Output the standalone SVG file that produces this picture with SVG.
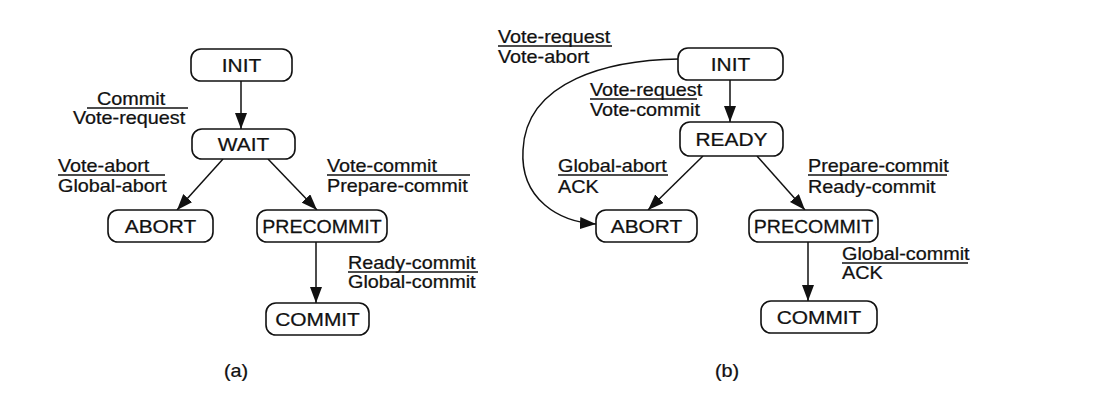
<svg xmlns="http://www.w3.org/2000/svg" width="1114" height="410" viewBox="0 0 1114 410">
<style>
text{font-family:"Liberation Sans",Arial,sans-serif;font-size:18px;fill:#111;stroke:#111;stroke-width:0.25}
.node rect{fill:#fff;stroke:#111;stroke-width:1.6}
.node text{text-anchor:middle;font-size:19px}
.edge{fill:none;stroke:#111;stroke-width:1.5}
.ul{stroke:#111;stroke-width:1.6}
</style>
<defs>
<marker id="ah" viewBox="0 0 16 12" refX="16" refY="6" markerWidth="16" markerHeight="12" markerUnits="userSpaceOnUse" orient="auto">
<path d="M0,0 L16,6 L0,12 Z" fill="#111"/>
</marker>
</defs>
<rect width="1114" height="410" fill="#fff"/>

<g id="connectors">
<line class="edge" x1="241" y1="81" x2="241" y2="129" marker-end="url(#ah)"/>
<line class="edge" x1="223" y1="159" x2="177" y2="210" marker-end="url(#ah)"/>
<line class="edge" x1="268" y1="159" x2="317" y2="210" marker-end="url(#ah)"/>
<line class="edge" x1="316" y1="242" x2="316" y2="303" marker-end="url(#ah)"/>
<line class="edge" x1="730" y1="80" x2="730" y2="122" marker-end="url(#ah)"/>
<line class="edge" x1="703" y1="156" x2="648" y2="210" marker-end="url(#ah)"/>
<line class="edge" x1="757" y1="156" x2="805" y2="210" marker-end="url(#ah)"/>
<line class="edge" x1="808" y1="242" x2="808" y2="301" marker-end="url(#ah)"/>
<path class="edge" d="M679,59 C610,60 526,80 523,150 C520,200 560,222 596,224" marker-end="url(#ah)"/>
</g>

<g id="labels">
<text transform="translate(97,105) scale(1.1,1)">Commit</text>
<line class="ul" x1="87" y1="108" x2="188" y2="108"/>
<text transform="translate(73,124) scale(1.1,1)">Vote-request</text>
<text transform="translate(58,172) scale(1.1,1)">Vote-abort</text>
<line class="ul" x1="58" y1="175" x2="165" y2="175"/>
<text transform="translate(58,192) scale(1.1,1)">Global-abort</text>
<text transform="translate(327,172) scale(1.1,1)">Vote-commit</text>
<line class="ul" x1="327" y1="175" x2="470" y2="175"/>
<text transform="translate(327,192) scale(1.1,1)">Prepare-commit</text>
<text transform="translate(348,269) scale(1.1,1)">Ready-commit</text>
<line class="ul" x1="348" y1="272" x2="478" y2="272"/>
<text transform="translate(348,288) scale(1.1,1)">Global-commit</text>
<text transform="translate(224,377) scale(1.1,1)">(a)</text>

<text transform="translate(498,43) scale(1.1,1)">Vote-request</text>
<line class="ul" x1="498" y1="46" x2="612" y2="46"/>
<text transform="translate(498,63) scale(1.1,1)">Vote-abort</text>
<text transform="translate(590,96) scale(1.1,1)">Vote-request</text>
<line class="ul" x1="590" y1="99" x2="697" y2="99"/>
<text transform="translate(590,116) scale(1.1,1)">Vote-commit</text>
<text transform="translate(558,172) scale(1.1,1)">Global-abort</text>
<line class="ul" x1="558" y1="175" x2="668" y2="175"/>
<text transform="translate(558,193) scale(1.1,1)">ACK</text>
<text transform="translate(808,172) scale(1.1,1)">Prepare-commit</text>
<line class="ul" x1="808" y1="175" x2="947" y2="175"/>
<text transform="translate(808,193) scale(1.1,1)">Ready-commit</text>
<text transform="translate(842,260) scale(1.1,1)">Global-commit</text>
<line class="ul" x1="842" y1="263" x2="968" y2="263"/>
<text transform="translate(842,279) scale(1.1,1)">ACK</text>
<text transform="translate(715,377) scale(1.1,1)">(b)</text>
</g>

<g id="a-init" class="node"><rect x="191" y="49" width="101" height="32" rx="10"/><text transform="translate(241.5,72) scale(1.1,1)">INIT</text></g>
<g id="a-wait" class="node"><rect x="192" y="129" width="103" height="30" rx="10"/><text transform="translate(243.5,151) scale(1.1,1)">WAIT</text></g>
<g id="a-abort" class="node"><rect x="108" y="210" width="105" height="32" rx="10"/><text transform="translate(160.5,233) scale(1.1,1)">ABORT</text></g>
<g id="a-precommit" class="node"><rect x="257" y="210" width="130" height="32" rx="10"/><text transform="translate(322,233) scale(1.03,1)">PRECOMMIT</text></g>
<g id="a-commit" class="node"><rect x="266" y="303" width="103" height="32" rx="10"/><text transform="translate(317.5,326) scale(1.1,1)">COMMIT</text></g>

<g id="b-init" class="node"><rect x="678" y="48" width="105" height="32" rx="10"/><text transform="translate(730.5,71) scale(1.1,1)">INIT</text></g>
<g id="b-ready" class="node"><rect x="680" y="122" width="103" height="34" rx="10"/><text transform="translate(731.5,146) scale(1.1,1)">READY</text></g>
<g id="b-abort" class="node"><rect x="596" y="210" width="101" height="32" rx="10"/><text transform="translate(646.5,233) scale(1.1,1)">ABORT</text></g>
<g id="b-precommit" class="node"><rect x="749" y="210" width="129" height="32" rx="10"/><text transform="translate(813.5,233) scale(1.03,1)">PRECOMMIT</text></g>
<g id="b-commit" class="node"><rect x="761" y="301" width="116" height="32" rx="10"/><text transform="translate(819,324) scale(1.1,1)">COMMIT</text></g>
</svg>
